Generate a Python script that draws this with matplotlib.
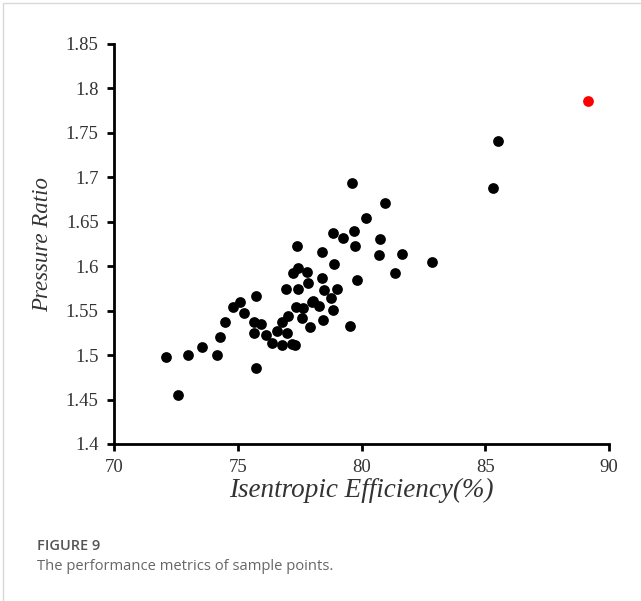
#!/usr/bin/env python3
"""Scatter of pressure ratio against isentropic efficiency for the sample points."""

import matplotlib

matplotlib.use("Agg")

import matplotlib.pyplot as plt
from matplotlib import font_manager
from matplotlib.font_manager import FontProperties
from matplotlib.patches import Rectangle


# sample points (efficiency in %, pressure ratio)
EFFICIENCY = [
    72.1, 72.6, 73.0, 73.55, 74.15, 74.3, 74.5, 74.8, 75.1, 75.25,
    75.65, 75.75, 75.75, 75.65, 75.95, 76.15, 76.4, 76.6, 76.8, 76.8,
    77.0, 76.95, 77.05, 77.3, 77.25, 77.4, 77.45, 77.45, 77.35, 77.65,
    77.6, 77.8, 77.85, 77.9, 78.05, 78.3, 78.4, 78.45, 78.4, 78.5,
    78.75, 78.85, 78.85, 78.9, 79.0, 79.25, 79.6, 79.55, 79.7, 79.75,
    79.8, 80.2, 80.75, 80.7, 80.95, 81.35, 81.65, 82.85, 85.3, 85.5,
    77.2, 78.0,
]
PRESSURE_RATIO = [
    1.498, 1.455, 1.500, 1.509, 1.500, 1.520, 1.537, 1.554, 1.560, 1.547,
    1.537, 1.567, 1.486, 1.525, 1.535, 1.523, 1.514, 1.527, 1.511, 1.537,
    1.525, 1.574, 1.544, 1.511, 1.592, 1.623, 1.574, 1.598, 1.554, 1.553,
    1.542, 1.594, 1.581, 1.532, 1.561, 1.555, 1.587, 1.539, 1.616, 1.573,
    1.564, 1.551, 1.637, 1.603, 1.574, 1.632, 1.694, 1.533, 1.640, 1.623,
    1.585, 1.654, 1.631, 1.613, 1.671, 1.592, 1.614, 1.605, 1.688, 1.741,
    1.512, 1.560,
]
# highlighted (optimal) point
BEST_EFFICIENCY = [89.15]
BEST_PRESSURE_RATIO = [1.786]

X_TICKS = [70, 75, 80, 85, 90]
X_TICK_LABELS = ["70", "75", "80", "85", "90"]
Y_TICKS = [1.4, 1.45, 1.5, 1.55, 1.6, 1.65, 1.7, 1.75, 1.8, 1.85]
Y_TICK_LABELS = ["1.4", "1.45", "1.5", "1.55", "1.6", "1.65", "1.7", "1.75", "1.8", "1.85"]

X_LABEL = "Isentropic Efficiency(%)"
Y_LABEL = "Pressure Ratio"
CAPTION_TITLE = "FIGURE 9"
CAPTION_TEXT = "The performance metrics of sample points."

# resolve font files once and pass them explicitly to every text
SERIF_REGULAR = font_manager.findfont(FontProperties(family="Liberation Serif"))
SERIF_ITALIC = font_manager.findfont(FontProperties(family="Liberation Serif", style="italic"))
SANS_REGULAR = font_manager.findfont(FontProperties(family="Open Sans"))
SANS_SEMIBOLD = font_manager.findfont(FontProperties(family="Open Sans", weight="semibold"))

fig = plt.figure(figsize=(6.41, 6.01), dpi=100)
fig.patches.append(
    Rectangle((3 / 641, -0.1), 1.2, 1 - 3 / 601 + 0.1, transform=fig.transFigure,
              fill=False, edgecolor="#d9d9d9", linewidth=1.0)
)
ax = fig.add_axes([114 / 641, 1 - 444 / 601, (609 - 114) / 641, (444 - 44) / 601])

ax.scatter(EFFICIENCY, PRESSURE_RATIO, s=60, color="black", linewidths=0, zorder=3)
ax.scatter(BEST_EFFICIENCY, BEST_PRESSURE_RATIO, s=60, color="#ff0000", linewidths=0, zorder=3)

ax.set_xlim(70, 90)
ax.set_ylim(1.4, 1.85)
ax.set_xticks(X_TICKS)
ax.set_yticks(Y_TICKS)
tick_font = FontProperties(fname=SERIF_REGULAR, size=13.5)
ax.set_xticklabels(X_TICK_LABELS, fontproperties=tick_font, color="#333333")
ax.set_yticklabels(Y_TICK_LABELS, fontproperties=tick_font, color="#333333")
ax.tick_params(direction="out", length=5, width=2.0, pad=6)

for side in ("top", "right"):
    ax.spines[side].set_visible(False)
for side in ("left", "bottom"):
    ax.spines[side].set_linewidth(2.0)
    ax.spines[side].set_color("black")

ax.set_xlabel(X_LABEL, fontproperties=FontProperties(fname=SERIF_ITALIC, size=19.5),
              color="#333333", labelpad=1)
ax.set_ylabel(Y_LABEL, fontproperties=FontProperties(fname=SERIF_ITALIC, size=16.5),
              color="#333333", labelpad=9)

fig.text(37 / 641, 1 - 546 / 601, CAPTION_TITLE,
         fontproperties=FontProperties(fname=SANS_SEMIBOLD, size=10.5),
         color="#555555", va="center", ha="left")
fig.text(37 / 641, 1 - 566 / 601, CAPTION_TEXT,
         fontproperties=FontProperties(fname=SANS_REGULAR, size=10.6),
         color="#666666", va="center", ha="left")

fig.savefig("out.png", dpi=100)
plt.close(fig)
